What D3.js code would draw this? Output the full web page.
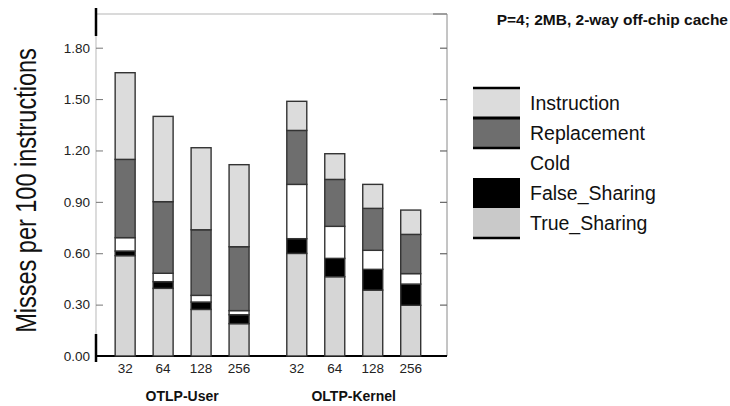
<!DOCTYPE html>
<html lang="en">
<head>
    <meta charset="UTF-8">
    <title>Misses per 100 instructions</title>
    <script src="https://d3js.org/d3.v7.min.js"></script>
    <style>
        body {margin: 0; background: #fff;}
        svg {display: block;}
    </style>
</head>
<body>
<script>
    const width = 730;
    const height = 406;

    // data
    const groups = ["OTLP-User", "OLTP-Kernel"];
    const sizes = ["32", "64", "128", "256"];
    const seriesNames = ["True_Sharing", "False_Sharing", "Cold", "Replacement", "Instruction"];
    const trueSharing  = [0.586, 0.395, 0.272, 0.189, 0.599, 0.463, 0.385, 0.296];
    const falseSharing = [0.027, 0.039, 0.043, 0.052, 0.086, 0.107, 0.121, 0.124];
    const cold         = [0.078, 0.049, 0.039, 0.024, 0.317, 0.187, 0.111, 0.061];
    const replacement  = [0.457, 0.418, 0.383, 0.373, 0.315, 0.274, 0.245, 0.229];
    const instruction  = [0.506, 0.498, 0.479, 0.479, 0.170, 0.150, 0.140, 0.142];
    const yTicks = [0, 0.3, 0.6, 0.9, 1.2, 1.5, 1.8];
    const legendOrder = ["Instruction", "Replacement", "Cold", "False_Sharing", "True_Sharing"];

    const colors = {
        True_Sharing: "#d6d6d6",
        False_Sharing: "#000000",
        Cold: "#ffffff",
        Replacement: "#6e6e6e",
        Instruction: "#dcdcdc"
    };
    const values = {
        True_Sharing: trueSharing,
        False_Sharing: falseSharing,
        Cold: cold,
        Replacement: replacement,
        Instruction: instruction
    };

    const rows = [];
    groups.forEach((g, gi) => sizes.forEach((s, si) => {
        const i = gi * sizes.length + si;
        const row = {group: g, size: s};
        seriesNames.forEach(n => row[n] = values[n][i]);
        rows.push(row);
    }));

    const svg = d3.select("body").append("svg")
            .attr("width", width).attr("height", height);

    const plot = {left: 96, right: 447, top: 14, bottom: 356};

    const y = d3.scaleLinear()
            .domain([0, 1.8])
            .range([plot.bottom, 47.7]);

    const xGroup = d3.scaleBand()
            .domain(groups)
            .range([plot.left, plot.right])
            .paddingInner(0.115)
            .paddingOuter(0.08)
            .align(0.37);

    const xSize = d3.scaleBand()
            .domain(sizes)
            .range([0, xGroup.bandwidth()])
            .paddingInner(18 / 38)
            .paddingOuter(9 / 38);

    const stack = d3.stack().keys(seriesNames);
    const stacked = stack(rows);

    // frame
    svg.append("line")
            .attr("x1", plot.left).attr("x2", plot.right)
            .attr("y1", plot.top).attr("y2", plot.top)
            .style("stroke", "#b5b5b5").style("stroke-width", 1);
    svg.append("line")
            .attr("x1", plot.right - 14).attr("x2", plot.right)
            .attr("y1", plot.top).attr("y2", plot.top)
            .style("stroke", "#777").style("stroke-width", 1.2);
    svg.append("line")
            .attr("x1", plot.right).attr("x2", plot.right)
            .attr("y1", plot.top).attr("y2", plot.bottom)
            .style("stroke", "#8a8a8a").style("stroke-width", 1);
    svg.append("line")
            .attr("x1", plot.left).attr("x2", plot.left)
            .attr("y1", plot.top).attr("y2", plot.bottom)
            .style("stroke", "#c4c4c4").style("stroke-width", 1.2);
    svg.append("line")
            .attr("x1", plot.left).attr("x2", plot.left)
            .attr("y1", 8).attr("y2", 36)
            .style("stroke", "#000").style("stroke-width", 2.5);
    svg.append("line")
            .attr("x1", plot.left).attr("x2", plot.left)
            .attr("y1", 334).attr("y2", 362)
            .style("stroke", "#000").style("stroke-width", 2.5);

    // left axis with labels
    const yAxis = svg.append("g")
            .attr("transform", `translate(${plot.left},0)`)
            .call(d3.axisLeft(y).tickValues(yTicks).tickFormat(d3.format(".2f"))
                    .tickSize(-7).tickPadding(6));
    yAxis.select(".domain").remove();
    yAxis.selectAll(".tick line").style("stroke", "#777").style("stroke-width", 1);
    yAxis.selectAll(".tick text")
            .style("font-family", "'Liberation Sans', Arial, sans-serif")
            .style("font-size", "13.5px")
            .style("fill", "#222");

    // right axis ticks
    const yAxisR = svg.append("g")
            .attr("transform", `translate(${plot.right},0)`)
            .call(d3.axisLeft(y).tickValues(yTicks.slice(1)).tickFormat("").tickSize(7));
    yAxisR.select(".domain").remove();
    yAxisR.selectAll(".tick line").style("stroke", "#666").style("stroke-width", 1.2);

    // baseline
    svg.append("line")
            .attr("x1", plot.left).attr("x2", plot.right)
            .attr("y1", plot.bottom).attr("y2", plot.bottom)
            .style("stroke", "#000").style("stroke-width", 2);

    // bars
    const layers = svg.append("g").selectAll("g.layer")
            .data(stacked)
            .enter().append("g")
            .attr("class", "layer")
            .style("fill", d => colors[d.key]);

    layers.selectAll("rect")
            .data(d => d)
            .enter().append("rect")
            .attr("x", d => xGroup(d.data.group) + xSize(d.data.size))
            .attr("width", xSize.bandwidth())
            .attr("y", d => y(d[1]))
            .attr("height", d => y(d[0]) - y(d[1]))
            .style("stroke", "#333")
            .style("stroke-width", 1.4);

    // x labels
    const xl = svg.append("g");
    rows.forEach(r => {
        xl.append("text")
                .attr("x", xGroup(r.group) + xSize(r.size) + xSize.bandwidth() / 2)
                .attr("y", 373)
                .attr("text-anchor", "middle")
                .style("font-family", "'Liberation Sans', Arial, sans-serif")
                .style("font-size", "13.5px")
                .style("fill", "#222")
                .text(r.size);
    });
    groups.forEach(g => {
        xl.append("text")
                .attr("x", xGroup(g) + xGroup.bandwidth() / 2)
                .attr("y", 401)
                .attr("text-anchor", "middle")
                .style("font-family", "'Liberation Sans', Arial, sans-serif")
                .style("font-size", "14px")
                .style("font-weight", "bold")
                .style("fill", "#111")
                .text(g);
    });

    // y title (horizontally squeezed, like a narrow face)
    svg.append("text")
            .attr("transform", "translate(36,190.5) rotate(-90) scale(0.81,1)")
            .attr("text-anchor", "middle")
            .style("font-family", "'Liberation Sans', Arial, sans-serif")
            .style("font-size", "29px")
            .style("fill", "#111")
            .text("Misses per 100 instructions");

    // chart title
    svg.append("text")
            .attr("x", 728).attr("y", 25)
            .attr("text-anchor", "end")
            .style("font-family", "'Liberation Sans', Arial, sans-serif")
            .style("font-size", "15.5px")
            .style("font-weight", "bold")
            .style("fill", "#111")
            .text("P=4; 2MB, 2-way off-chip cache");

    // legend
    const legend = svg.append("g").attr("transform", "translate(473,88)");
    const rowH = 30;
    const legendFill = Object.assign({}, colors, {True_Sharing: "#c9c9c9"});
    legendOrder.forEach((name, i) => {
        legend.append("rect")
                .attr("x", 0).attr("y", i * rowH)
                .attr("width", 47).attr("height", rowH)
                .style("fill", legendFill[name]);
        legend.append("text")
                .attr("x", 57).attr("y", i * rowH + rowH / 2 + 7)
                .style("font-family", "'Liberation Sans', Arial, sans-serif")
                .style("font-size", "19.5px")
                .style("fill", "#111")
                .text(name);
    });
    // separator lines of the legend swatches
    [0, 1, 2, 5].forEach(k => {
        legend.append("line")
                .attr("x1", 0).attr("x2", 47)
                .attr("y1", k * rowH).attr("y2", k * rowH)
                .style("stroke", "#000").style("stroke-width", k === 1 ? 3 : 2.5);
    });
</script>
</body>
</html>
